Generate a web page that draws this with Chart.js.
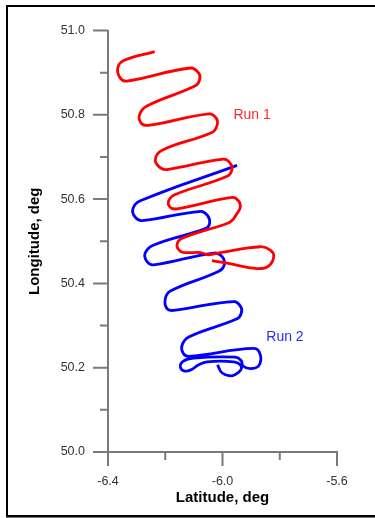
<!DOCTYPE html>
<html>
<head>
<meta charset="utf-8">
<title>Run 1 / Run 2 tracks</title>
<script src="https://cdn.jsdelivr.net/npm/chart.js@4/dist/chart.umd.min.js"></script>
<style>
  html, body { margin: 0; padding: 0; background: #fff; }
  #wrap { width: 375px; height: 518px; }
</style>
</head>
<body>
<div id="wrap"><canvas id="trackChart" width="375" height="518"></canvas></div>
<script>
// Track positions (degrees)
const run1Lat = [-6.237, -6.345, -6.366, -6.357, -6.334, -6.112, -6.083, -6.080, -6.095, -6.264,
                 -6.289, -6.285, -6.258, -6.048, -6.022, -6.019, -6.037, -6.211, -6.235, -6.217,
                 -6.194, -5.996, -5.973, -5.967, -5.984, -6.165, -6.188, -6.182, -6.159, -5.967,
                 -5.944, -5.938, -5.952, -5.967, -5.984, -6.141, -6.159, -6.147, -6.124, -6.077,
                 -6.048, -6.008, -5.868, -5.833, -5.821, -5.839, -5.879, -5.984, -6.037];
const run1Lon = [50.950, 50.929, 50.911, 50.887, 50.880, 50.911, 50.899, 50.883, 50.869, 50.821,
                 50.802, 50.781, 50.775, 50.802, 50.792, 50.775, 50.758, 50.716, 50.693, 50.674,
                 50.670, 50.695, 50.685, 50.670, 50.654, 50.611, 50.596, 50.580, 50.577, 50.604,
                 50.596, 50.580, 50.563, 50.549, 50.542, 50.507, 50.491, 50.476, 50.473, 50.473,
                 50.468, 50.473, 50.487, 50.479, 50.464, 50.441, 50.435, 50.448, 50.454];

const run2Lat = [-5.949, -6.287, -6.313, -6.305, -6.281, -6.077, -6.052, -6.045, -6.060, -6.240,
                 -6.270, -6.264, -6.240, -6.031, -6.002, -5.994, -6.013, -6.182, -6.200, -6.194,
                 -6.171, -5.961, -5.935, -5.935, -5.949, -6.118, -6.141, -6.138, -6.118, -5.891,
                 -5.868, -5.874, -5.903, -5.928, -5.935, -5.955, -6.101, -6.138, -6.147, -6.132,
                 -6.110, -6.083, -6.054, -5.961, -5.938, -5.935, -5.955, -5.978, -6.002, -6.013,
                 -6.017];
const run2Lon = [50.680, 50.596, 50.577, 50.557, 50.549, 50.571, 50.561, 50.542, 50.530, 50.491,
                 50.472, 50.452, 50.444, 50.472, 50.464, 50.444, 50.429, 50.382, 50.363, 50.340,
                 50.336, 50.357, 50.343, 50.328, 50.316, 50.273, 50.254, 50.235, 50.227, 50.246,
                 50.231, 50.204, 50.198, 50.204, 50.217, 50.225, 50.223, 50.215, 50.201, 50.192,
                 50.195, 50.207, 50.214, 50.214, 50.207, 50.196, 50.184, 50.181, 50.188, 50.200,
                 50.207];

const runNames = ['Run 1', 'Run 2'];
const xTickLabels = ['-6.4', '-6.0', '-5.6'];
const yTickLabels = ['50.0', '50.2', '50.4', '50.6', '50.8', '51.0'];

const AXIS_GREY = '#7a7a7a';
const TICK_FONT = { family: 'Liberation Sans, Arial, sans-serif', size: 12.5 };
const TITLE_FONT = { family: 'Liberation Sans, Arial, sans-serif', size: 15, weight: 'bold' };

function toPoints(xs, ys) {
    return xs.map((x, i) => ({ x: x, y: ys[i] }));
}

// Frame round the figure, tick marks and run labels
const decorations = {
    id: 'decorations',
    beforeDraw(chart) {
        const ctx = chart.ctx;
        ctx.save();
        ctx.fillStyle = '#000';
        ctx.fillRect(6, 5, 2, 512);
        ctx.fillRect(6, 5, 369, 2);
        ctx.fillRect(6, 515, 369, 2.5);
        ctx.restore();
    },
    afterDraw(chart) {
        const ctx = chart.ctx;
        const area = chart.chartArea;
        const xs = chart.scales.x;
        const ys = chart.scales.y;
        ctx.save();
        ctx.strokeStyle = AXIS_GREY;
        ctx.lineWidth = 2;
        ctx.beginPath();
        xs.ticks.forEach(t => {
            const px = xs.getPixelForValue(t.value);
            const len = xTickLabels.includes(t.value.toFixed(1)) ? 14 : 8;
            ctx.moveTo(px, area.bottom);
            ctx.lineTo(px, area.bottom + len);
        });
        ys.ticks.forEach(t => {
            const py = ys.getPixelForValue(t.value);
            const len = yTickLabels.includes(t.value.toFixed(1)) ? 15 : 8;
            ctx.moveTo(area.left, py);
            ctx.lineTo(area.left - len, py);
        });
        ctx.stroke();

        // run labels, placed in data space
        ctx.font = '14px "Liberation Sans", Arial, sans-serif';
        ctx.textBaseline = 'middle';
        ctx.textAlign = 'left';
        ctx.fillStyle = '#ff2a2a';
        ctx.fillText(runNames[0], xs.getPixelForValue(-5.962), ys.getPixelForValue(50.800));
        ctx.fillStyle = '#2a2aff';
        ctx.fillText(runNames[1], xs.getPixelForValue(-5.847), ys.getPixelForValue(50.272));
        ctx.restore();
    }
};

const ctx = document.getElementById('trackChart').getContext('2d');
new Chart(ctx, {
    type: 'scatter',
    data: {
        datasets: [{
            label: runNames[0],
            data: toPoints(run1Lat, run1Lon),
            showLine: true,
            borderColor: '#ff0000',
            borderWidth: 2.8,
            pointRadius: 0,
            tension: 0.42,
            fill: false
        }, {
            label: runNames[1],
            data: toPoints(run2Lat, run2Lon),
            showLine: true,
            borderColor: '#0000ff',
            borderWidth: 2.8,
            pointRadius: 0,
            tension: 0.42,
            fill: false
        }]
    },
    options: {
        responsive: false,
        animation: false,
        layout: {
            padding: { left: 0, right: 38, top: 23, bottom: 0 }
        },
        plugins: {
            legend: { display: false },
            tooltip: { enabled: false }
        },
        scales: {
            x: {
                type: 'linear',
                min: -6.4,
                max: -5.6,
                ticks: {
                    stepSize: 0.2,
                    padding: 22,
                    color: '#333',
                    font: TICK_FONT,
                    maxRotation: 0,
                    autoSkip: false,
                    callback: function(value) {
                        const s = Number(value).toFixed(1);
                        return xTickLabels.includes(s) ? s : '';
                    }
                },
                grid: { display: false, drawTicks: false },
                border: { display: true, color: AXIS_GREY, width: 2 },
                title: {
                    display: true,
                    text: 'Latitude, deg',
                    color: '#000',
                    font: TITLE_FONT,
                    padding: { top: 0, bottom: 11 }
                },
                afterFit: function(scale) { scale.height = 66; }
            },
            y: {
                type: 'linear',
                min: 50.0,
                max: 51.0,
                ticks: {
                    stepSize: 0.1,
                    padding: 23,
                    color: '#333',
                    font: TICK_FONT,
                    autoSkip: false,
                    callback: function(value) {
                        const s = Number(value).toFixed(1);
                        return yTickLabels.includes(s) ? s : '';
                    }
                },
                grid: { display: false, drawTicks: false },
                border: { display: true, color: AXIS_GREY, width: 2 },
                title: {
                    display: true,
                    text: 'Longitude, deg',
                    color: '#000',
                    font: TITLE_FONT,
                    padding: { top: 26, bottom: 0 }
                },
                afterFit: function(scale) { scale.width = 108; }
            }
        }
    },
    plugins: [decorations]
});
</script>
</body>
</html>
